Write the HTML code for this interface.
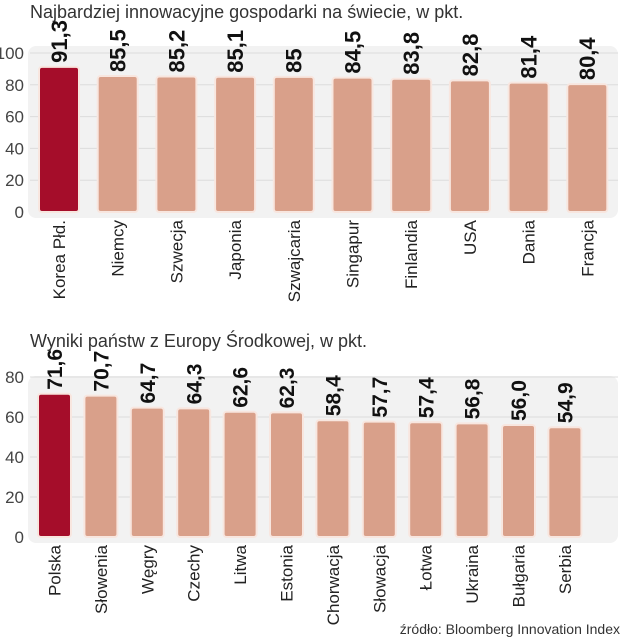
<!DOCTYPE html>
<html><head><meta charset="utf-8"><style>
body{margin:0;background:#fff;width:628px;height:640px;overflow:hidden}
svg{display:block;font-family:"Liberation Sans",sans-serif}
</style></head><body>
<svg id="c" width="628" height="640">
<text x="30" y="18" font-size="18" fill="#333">Najbardziej innowacyjne gospodarki na świecie, w pkt.</text>
<text x="30" y="347" font-size="18" fill="#333">Wyniki państw z Europy Środkowej, w pkt.</text>
<text x="620" y="634" font-size="14" fill="#333" text-anchor="end">źródło: Bloomberg Innovation Index</text>
</svg>
<script>
const topCats=["Korea Płd.","Niemcy","Szwecja","Japonia","Szwajcaria","Singapur","Finlandia","USA","Dania","Francja"];
const topVals=[91.3,85.5,85.2,85.1,85,84.5,83.8,82.8,81.4,80.4];
const topLabels=["91,3","85,5","85,2","85,1","85","84,5","83,8","82,8","81,4","80,4"];
const topTicks=[0,20,40,60,80,100];
const botCats=["Polska","Słowenia","Węgry","Czechy","Litwa","Estonia","Chorwacja","Słowacja","Łotwa","Ukraina","Bułgaria","Serbia"];
const botVals=[71.6,70.7,64.7,64.3,62.6,62.3,58.4,57.7,57.4,56.8,56.0,54.9];
const botLabels=["71,6","70,7","64,7","64,3","62,6","62,3","58,4","57,7","57,4","56,8","56,0","54,9"];
const botTicks=[0,20,40,60,80];
const svg=document.getElementById('c');
const NS='http://www.w3.org/2000/svg';
function mk(t,a){const e=document.createElementNS(NS,t);for(const k in a)e.setAttribute(k,a[k]);svg.appendChild(e);return e;}
function chart(p,cats,vals,labels,ticks){
  const y=v=>p.y0-v*p.k;
  const bg=mk('rect',{x:28,y:p.top,width:590,height:p.y0-p.top+6,rx:8,fill:'#f2f2f2'});
  
  
  ticks.forEach(t=>{
    if(t>0){const l=mk('line',{x1:30,x2:618,y1:y(t),y2:y(t),stroke:'#dcdcdc','stroke-width':1});
    
    }
    const tx=mk('text',{x:24,y:y(t)+6,'font-size':17,fill:'#444','text-anchor':'end'});
    tx.textContent=t;
    
    
  });
  cats.forEach((c,i)=>{
    const x=p.x0+i*p.step;
    const b=mk('rect',{x:x,y:y(vals[i]),width:p.w,height:vals[i]*p.k,rx:3,fill:i==0?'#a50d2a':'#d9a08a',stroke:'#f8e6df','stroke-width':2});
    
    
    const cx=x+p.w/2;
    const v=mk('text',{x:0,y:0,'font-size':p.fs,'font-weight':'bold',fill:'#111',transform:`translate(${cx+p.fs*0.36},${y(vals[i])-4}) rotate(-90)`});
    v.textContent=labels[i];
    
    
    const l=mk('text',{x:0,y:0,'font-size':17,fill:'#222','text-anchor':'end',transform:`translate(${cx+6},${p.y0+8}) rotate(-90)`});
    l.textContent=c;
    
    
  });
}
chart({n:'top',y0:212,k:1.59,top:46,x0:39,step:58.7,w:40,fs:22},topCats,topVals,topLabels,topTicks);
chart({n:'bottom',y0:537,k:2,top:376,x0:38,step:46.4,w:33,fs:21},botCats,botVals,botLabels,botTicks);
</script>
</body></html>
